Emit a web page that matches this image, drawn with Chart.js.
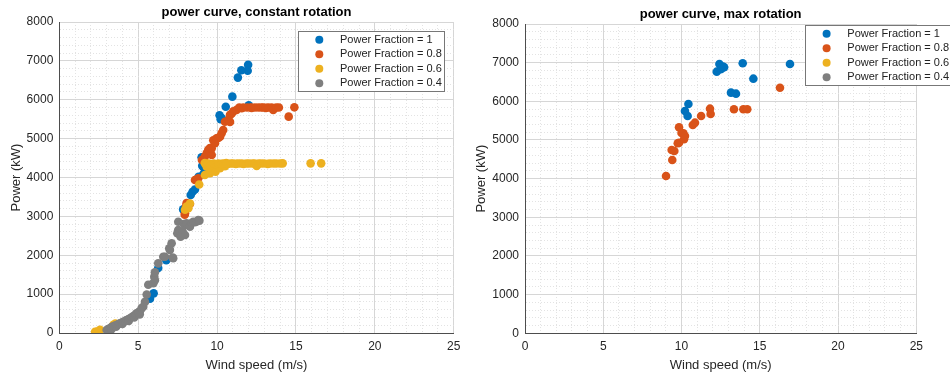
<!DOCTYPE html>
<html>
<head>
<meta charset="utf-8">
<script src="https://cdn.jsdelivr.net/npm/chart.js@4/dist/chart.umd.min.js"></script>
<style>
  body { margin: 0; background: #fff; }
  #quadro { position: relative; width: 950px; height: 378px; overflow: hidden; background: #fff; }
  #grafico1 { position: absolute; left: 0; top: 0; }
  #grafico2 { position: absolute; left: 468px; top: 0; }
</style>
</head>
<body>
<div id="quadro">
  <canvas id="grafico1" width="468" height="378"></canvas>
  <canvas id="grafico2" width="482" height="378"></canvas>
</div>
<script>
// rotação constante
var ventoCte1 = [5.75, 5.98, 6.27, 6.78, 7.85, 8.33, 8.45, 8.6, 8.83, 9.02, 9.06, 9.13, 9.17, 10.16, 10.23, 10.29, 10.55, 10.97, 11.32, 11.54, 11.94, 11.97, 12.01];
var potCte1 = [880, 1020, 1670, 1870, 3180, 3550, 3635, 3690, 4020, 4520, 4300, 4090, 4250, 5600, 5500, 5530, 5820, 6080, 6570, 6760, 6745, 6900, 5860];

var ventoCte08 = [7.95, 7.97, 8.03, 8.07, 8.18, 8.28, 8.6, 8.72, 8.81, 9.04, 9.13, 9.23, 9.34, 9.44, 9.55, 9.66, 9.66, 9.76, 9.87, 9.97, 10.08, 10.19, 10.29, 10.39, 10.5, 10.71, 10.82, 10.82, 10.92, 11.03, 11.24, 11.41, 11.56, 11.66, 11.9, 12.13, 12.19, 12.4, 12.61, 12.8, 12.93, 13.1, 13.25, 13.46, 13.56, 13.75, 13.92, 14.54, 14.9];
var potCte08 = [3040, 3080, 3250, 3340, 3290, 3320, 3935, 3950, 3980, 4450, 4460, 4540, 4620, 4710, 4760, 4580, 4750, 4960, 4880, 5010, 5020, 5050, 5140, 5220, 5435, 5480, 5430, 5610, 5640, 5700, 5740, 5800, 5780, 5800, 5800, 5800, 5790, 5800, 5800, 5800, 5800, 5790, 5800, 5800, 5735, 5800, 5800, 5565, 5805];

var ventoCte06 = [2.27, 2.4, 2.58, 3.43, 3.55, 7.97, 8.07, 8.18, 8.28, 8.87, 9.23, 9.34, 9.55, 9.76, 9.8, 9.9, 10.19, 10.5,
  9.22, 9.37, 9.48, 9.66, 9.79, 9.97, 10.08, 10.27, 10.41, 10.58, 10.69, 10.88, 11.02, 11.19, 11.33, 11.52, 11.68, 11.87, 12.03, 12.24, 12.38, 12.51, 12.63, 12.79, 12.98, 13.21, 13.37, 13.58, 13.76, 13.99, 14.16, 15.93, 16.6];
var potCte06 = [30, 40, 80, 210, 240, 3170, 3250, 3210, 3330, 3820, 4064, 4280, 4110, 4190, 4280, 4150, 4240, 4290,
  4370, 4350, 4360, 4330, 4360, 4340, 4360, 4350, 4360, 4370, 4350, 4360, 4360, 4350, 4360, 4360, 4350, 4360, 4360, 4360, 4360, 4295, 4360, 4360, 4360, 4350, 4360, 4360, 4360, 4360, 4364, 4364, 4364];

var ventoCte04 = [3.0, 3.1, 3.21, 3.3, 3.3, 3.42, 3.53, 3.6, 3.64, 3.75, 3.85, 3.96, 4.0, 4.06, 4.18, 4.27, 4.38, 4.4, 4.48, 4.6, 4.72, 4.75, 4.82, 4.9, 5.02, 5.1, 5.11, 5.22, 5.32, 5.43, 5.54, 5.64,
  5.96, 6.02, 6.06, 6.06, 6.27, 6.59, 6.7, 6.97, 7.01, 7.12, 7.19, 7.22, 7.48, 7.54, 7.54, 7.65, 7.65, 7.69, 7.76, 7.82, 7.9, 7.97, 7.97, 8.07, 8.28, 8.39, 8.49, 8.6, 8.71, 8.81, 8.88];
var potCte04 = [77, 100, 121, 150, 90, 170, 190, 160, 206, 230, 250, 270, 230, 291, 315, 334, 355, 310, 378, 410, 440, 400, 470, 507, 530, 480, 560, 640, 677, 800, 990, 1240,
  1280, 1450, 1360, 1560, 1792, 1962, 1960, 2178, 2135, 2307, 1938, 1921, 2564, 2650, 2862, 2521, 2606, 2477, 2520, 2610, 2800, 2778, 2521, 2821, 2735, 2830, 2862, 2850, 2870, 2906, 2890];

// rotação máxima
var ventoMax1 = [10.22, 10.39, 10.44, 12.25, 12.42, 12.5, 12.57, 12.65, 12.72, 13.16, 13.48, 13.91, 14.59, 16.93];
var potMax1 = [5750, 5621, 5931, 6767, 6966, 6830, 6854, 6900, 6880, 6224, 6198, 6984, 6586, 6966];

var ventoMax08 = [9.01, 9.41, 9.37, 9.54, 9.76, 9.84, 9.84, 10.0, 10.12, 10.16, 10.22, 10.72, 10.86, 11.25, 11.82, 11.86, 13.35, 13.95, 14.2, 16.29];
var potMax08 = [4068, 4483, 4741, 4716, 4914, 4930, 5328, 5180, 5173, 5018, 5103, 5388, 5448, 5621, 5810, 5672, 5794, 5794, 5794, 6353];

var rotulos = ["Power Fraction = 1", "Power Fraction = 0.8", "Power Fraction = 0.6", "Power Fraction = 0.4"];
var cores = ["#0072BD", "#D95319", "#EDB120", "#7F7F7F"];
var fonte = "'Liberation Sans', Arial, Helvetica, sans-serif";

function pontos(vento, potencia) {
  var lista = [];
  for (var i = 0; i < vento.length; i++) {
    lista.push({ x: vento[i], y: potencia[i] });
  }
  return lista;
}

function conjuntos(series) {
  return series.map(function (s, i) {
    return {
      label: rotulos[i],
      data: s,
      backgroundColor: cores[i],
      borderColor: cores[i],
      borderWidth: 0,
      pointRadius: 4.3,
      order: 4 - i,
    };
  });
}

// legenda com caixa dentro da área do gráfico
var legendaCaixa = {
  id: "legendaCaixa",
  afterDatasetsDraw: function (chart, args, opts) {
    var ctx = chart.ctx;
    ctx.save();
    ctx.fillStyle = "#fff";
    ctx.fillRect(opts.x, opts.y, 146, 60);
    ctx.strokeStyle = "#777";
    ctx.lineWidth = 1;
    ctx.strokeRect(Math.round(opts.x) + 0.5, Math.round(opts.y) + 0.5, 146, 60);
    ctx.font = "11px " + fonte;
    ctx.textBaseline = "middle";
    chart.data.datasets.forEach(function (ds, i) {
      var y = opts.y + 8.7 + i * 14.5;
      ctx.fillStyle = ds.backgroundColor;
      ctx.beginPath();
      ctx.arc(opts.x + 21.3, y, 4, 0, Math.PI * 2);
      ctx.fill();
      ctx.fillStyle = "#222";
      ctx.fillText(ds.label, opts.x + 42, y);
    });
    ctx.restore();
  },
};

// linhas principais contínuas, secundárias pontilhadas
function grade(passo) {
  return {
    drawTicks: false,
    color: function (c) {
      return c.tick && c.tick.value % passo === 0 ? "#d6d6d6" : "#e3e3e3";
    },
  };
}

function borda(passo) {
  return {
    color: "#4d4d4d",
    dash: function (c) {
      return c.tick && c.tick.value % passo !== 0 ? [1, 2] : [];
    },
  };
}

function opcoes(cfg) {
  return {
    responsive: false,
    animation: false,
    events: [],
    layout: { padding: { left: 0, right: cfg.direita, top: 0, bottom: 0 } },
    plugins: {
      legend: { display: false },
      tooltip: { enabled: false },
      title: {
        display: true,
        text: cfg.titulo,
        fullSize: false,
        color: "#000",
        font: { family: fonte, size: 13, weight: "bold" },
        padding: { top: cfg.tituloTopo, bottom: cfg.tituloBase },
      },
      legendaCaixa: { x: cfg.legX, y: cfg.legY },
    },
    scales: {
      x: {
        type: "linear",
        min: 0,
        max: 25,
        ticks: {
          stepSize: 1,
          autoSkip: false,
          maxTicksLimit: 100,
          maxRotation: 0,
          padding: 6,
          color: "#262626",
          font: { family: fonte, size: 12 },
          callback: function (v) { return v % 5 === 0 ? v : ""; },
        },
        grid: grade(5),
        border: borda(5),
        title: {
          display: true,
          text: "Wind speed (m/s)",
          color: "#262626",
          font: { family: fonte, size: 13 },
          padding: { top: 0, bottom: 5.2 },
        },
        afterFit: function (s) { s.height = cfg.alturaX; },
      },
      y: {
        type: "linear",
        min: 0,
        max: 8000,
        ticks: {
          stepSize: 200,
          autoSkip: false,
          maxTicksLimit: 100,
          padding: 6,
          color: "#262626",
          font: { family: fonte, size: 12 },
          callback: function (v) { return v % 1000 === 0 ? v : ""; },
        },
        grid: grade(1000),
        border: borda(1000),
        title: {
          display: true,
          text: "Power (kW)",
          color: "#262626",
          font: { family: fonte, size: 13 },
          padding: { top: cfg.tituloY, bottom: 0 },
        },
        afterFit: function (s) { s.width = cfg.larguraY; },
      },
    },
  };
}

var grafico1 = new Chart(document.getElementById("grafico1"), {
  type: "scatter",
  data: {
    datasets: conjuntos([
      pontos(ventoCte1, potCte1),
      pontos(ventoCte08, potCte08),
      pontos(ventoCte06, potCte06),
      pontos(ventoCte04, potCte04),
    ]),
  },
  options: opcoes({
    titulo: "power curve, constant rotation",
    direita: 14.3,
    tituloTopo: 4.2,
    tituloBase: 2.2,
    tituloY: 8.5,
    larguraY: 59.3,
    alturaX: 45,
    legX: 298,
    legY: 31,
  }),
  plugins: [legendaCaixa],
});

var grafico2 = new Chart(document.getElementById("grafico2"), {
  type: "scatter",
  data: {
    datasets: conjuntos([
      pontos(ventoMax1, potMax1),
      pontos(ventoMax08, potMax08),
      [],
      [],
    ]),
  },
  options: opcoes({
    titulo: "power curve, max rotation",
    direita: 33.7,
    tituloTopo: 6.9,
    tituloBase: 1.5,
    tituloY: 5.2,
    larguraY: 57,
    alturaX: 44.7,
    legX: 337.3,
    legY: 25,
  }),
  plugins: [legendaCaixa],
});
</script>
</body>
</html>
